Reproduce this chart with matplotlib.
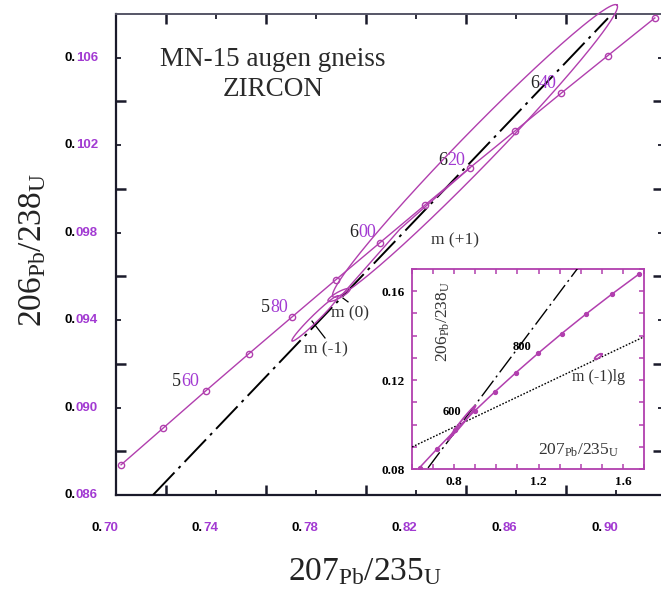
import numpy as np
import matplotlib
matplotlib.use("Agg")
import matplotlib.pyplot as plt
from matplotlib.ticker import MultipleLocator

# ---------------- data ----------------
# concordia points (main panel), ages in Ma
conc_ages = [540, 550, 560, 570, 580, 590, 600, 610, 620, 630, 640, 650, 660]
conc_x = [0.70203, 0.71887, 0.73588, 0.75306, 0.77041, 0.78793, 0.80563,
          0.82350, 0.84155, 0.85978, 0.87818, 0.89677, 0.91554]
conc_y = [0.08738, 0.08906, 0.09076, 0.09245, 0.09414, 0.09584, 0.09754,
          0.09925, 0.10096, 0.10266, 0.10438, 0.10609, 0.10781]
age_labels = ["560", "580", "600", "620", "640"]
age_label_x = [0.7260, 0.7616, 0.7968, 0.8324, 0.8692]
age_label_y = [0.09121, 0.09459, 0.09798, 0.10131, 0.10479]

# reference (dash-dot) line
ref_x = [0.7148, 0.8968]
ref_y = [0.0860, 0.1078]

# m(+1) trajectory
mp1_x = [0.7896, 0.8136, 0.8236, 0.8416]
mp1_y = [0.09505, 0.09816, 0.09917, 0.10096]

# ellipses: centre, semi-axis vector A, semi-axis vector B (data units)
ell_big = dict(c=(0.8436, 0.10173), a=(0.0568, 0.00667), b=(0.00488, -0.000542))
ell_m1 = dict(c=(0.7796, 0.09407), a=(0.0092, 0.00103), b=(0.00098, -0.000114))
ell_m0 = dict(c=(0.7892, 0.095145), a=(0.0044, 0.000275), b=(0.000575, -0.00012))
ell_lg = dict(c=(1.483, 0.1306), a=(0.0165, 0.00115), b=(0.0041, -0.00055))

# inset concordia
ins_ages = [500, 550, 600, 650, 700, 750, 800, 850, 900, 950, 1000]
ins_x = [0.63627, 0.71887, 0.80563, 0.89677, 0.99251, 1.09308, 1.19873,
         1.30970, 1.42628, 1.54876, 1.67743]
ins_y = [0.08065, 0.08906, 0.09754, 0.10609, 0.11470, 0.12338, 0.13213,
         0.14094, 0.14983, 0.15878, 0.16780]
ins_ref_x = [0.676, 1.387]
ins_ref_y = [0.0805, 0.1705]
lg_x = [0.60, 1.70]
lg_y = [0.0899, 0.1395]

x_ticks = [0.70, 0.74, 0.78, 0.82, 0.86, 0.90]
x_tick_labels = ["0.70", "0.74", "0.78", "0.82", "0.86", "0.90"]
y_ticks = [0.086, 0.090, 0.094, 0.098, 0.102, 0.106]
y_tick_labels = ["0.086", "0.090", "0.094", "0.098", "0.102", "0.106"]

# ---------------- style ----------------
MAG = "#b13fae"
PUR = "#a23ad2"
DARK = "#1a1a2a"
SERIF = ["Liberation Serif", "DejaVu Serif"]


def ellipse_xy(e, n=240):
    t = np.linspace(0, 2 * np.pi, n)
    cx, cy = e["c"]
    ax_, ay_ = e["a"]
    bx_, by_ = e["b"]
    return cx + ax_ * np.cos(t) + bx_ * np.sin(t), cy + ay_ * np.cos(t) + by_ * np.sin(t)


W, H = 661, 592
fig = plt.figure(figsize=(W / 100, H / 100), dpi=100)
ax = fig.add_axes([116 / W, 97 / H, 547 / W, 481 / H])
ax.set_xlim(0.70, 0.9188)
ax.set_ylim(0.086, 0.10799)

for sp in ["left", "bottom"]:
    ax.spines[sp].set_color(DARK)
    ax.spines[sp].set_linewidth(1.6)
ax.spines["top"].set_color("#555566")
ax.spines["top"].set_linewidth(1.4)
ax.spines["right"].set_color(DARK)
ax.spines["right"].set_linewidth(1.4)

ax.xaxis.set_major_locator(MultipleLocator(0.04))
ax.xaxis.set_minor_locator(MultipleLocator(0.02))
ax.yaxis.set_major_locator(MultipleLocator(0.004))
ax.yaxis.set_minor_locator(MultipleLocator(0.002))
ax.tick_params(which="both", direction="in", top=True, right=True,
               labelbottom=False, labelleft=False, color=DARK)
ax.tick_params(which="major", length=7.5, width=1.8)
ax.tick_params(which="minor", length=3.8, width=1.3)

# tick labels (two-tone)
tfont = dict(family="Liberation Sans", weight="bold", fontsize=9.5)
xtr = ax.get_xaxis_transform()
for v, lab in zip(x_ticks, x_tick_labels):
    sx = v - 0.0052
    ax.text(sx, -0.0686, lab[:2], transform=xtr, ha="right", va="center",
            color="black", **tfont)
    ax.text(sx, -0.0686, lab[2:], transform=xtr, ha="left", va="center",
            color=PUR, **tfont)
ytr = ax.get_yaxis_transform()
for v, lab in zip(y_ticks, y_tick_labels):
    sx = -40 / 547
    ax.text(sx, v, lab[:2], transform=ytr, ha="right", va="center",
            color="black", **tfont)
    ax.text(sx, v, lab[2:], transform=ytr, ha="left", va="center",
            color=PUR, **tfont)

# axis labels
fig.text(365 / W, 1 - 572 / H, r"$\mathregular{207_{Pb}/235_{U}}$",
         ha="center", va="center", fontsize=24, family=SERIF, color="#222222")
fig.text(33 / W, 1 - 250 / H, r"$\mathregular{206_{Pb}/238_{U}}$",
         ha="center", va="center", fontsize=24, family=SERIF, color="#222222",
         rotation=90)

# title
ax.text(157 / 547, 1 - 45 / 481, "MN-15 augen gneiss", transform=ax.transAxes,
        ha="center", va="center", fontsize=19.5, family=SERIF, color="#2a2a2a")
ax.text(157 / 547, 1 - 76 / 481, "ZIRCON", transform=ax.transAxes,
        ha="center", va="center", fontsize=19.5, family=SERIF, color="#2a2a2a")

# reference line
ax.plot(ref_x, ref_y, color="black", lw=1.4,
        linestyle=(0, (16, 3, 1.5, 3)), zorder=3)

# ellipses
for e in (ell_big, ell_m1, ell_m0):
    ex, ey = ellipse_xy(e)
    ax.plot(ex, ey, color=MAG, lw=1.0, clip_on=False, zorder=4)

# m(+1)
ax.plot(mp1_x, mp1_y, color=MAG, lw=1.0, zorder=4)

# concordia
ax.plot(conc_x, conc_y, color=MAG, lw=1.0, marker="o", ms=4.5,
        mfc="none", mec=MAG, mew=1.0, zorder=5)

# age labels
for lab, lx, ly in zip(age_labels, age_label_x, age_label_y):
    ax.text(lx, ly, lab[0], ha="right", va="center", fontsize=13,
            family=SERIF, color="#222222")
    ax.text(lx, ly, lab[1:], ha="left", va="center", fontsize=13,
            family=SERIF, color=PUR)

# m labels with pointers
ax.text(0.7935, 0.09428, "m (0)", ha="center", va="center", fontsize=12.5,
        family=SERIF, color="#333333")
ax.plot([0.7928, 0.7908], [0.09423 + 0.0006, 0.09500], color="black", lw=0.9)
ax.text(0.7838, 0.09265, "m (-1)", ha="center", va="center", fontsize=12.5,
        family=SERIF, color="#333333")
ax.plot([0.7836, 0.7784], [0.09318, 0.09395], color="black", lw=0.9)
ax.text(0.8356, 0.09766, "m (+1)", ha="center", va="center", fontsize=12.5,
        family=SERIF, color="#333333")

# ---------------- inset ----------------
ins = fig.add_axes([412 / W, 123 / H, 232 / W, 200 / H])
ins.set_xlim(0.6, 1.7)
ins.set_ylim(0.08, 0.17)
for sp in ins.spines.values():
    sp.set_color(MAG)
    sp.set_linewidth(1.3)
ins.xaxis.set_major_locator(MultipleLocator(0.4))
ins.xaxis.set_minor_locator(MultipleLocator(0.1))
ins.yaxis.set_major_locator(MultipleLocator(0.04))
ins.yaxis.set_minor_locator(MultipleLocator(0.01))
ins.set_xticks([0.8, 1.2, 1.6])
ins.set_xticklabels(["0.8", "1.2", "1.6"])
ins.set_yticks([0.08, 0.12, 0.16])
ins.set_yticklabels(["0.08", "0.12", "0.16"])
ins.tick_params(which="both", direction="in", top=True, right=True,
                color=MAG, length=3.5, width=1.1)
ins.tick_params(which="major", pad=5)
for tl in ins.get_xticklabels() + ins.get_yticklabels():
    tl.set_fontfamily("Liberation Serif")
    tl.set_fontweight("bold")
    tl.set_fontsize(9.5)

ins.plot(lg_x, lg_y, color="black", lw=1.0, linestyle=(0, (1.2, 1.2)), zorder=3)
ins.plot(ins_ref_x, ins_ref_y, color="black", lw=1.0,
         linestyle=(0, (14, 3, 1.5, 3)), zorder=3)
ins.plot(ins_x, ins_y, color=MAG, lw=1.1, marker="o", ms=2.8, mfc=MAG,
         mec=MAG, zorder=5)
for e in (ell_big, ell_m1, ell_m0, ell_lg):
    ex, ey = ellipse_xy(e)
    ins.plot(ex, ey, color=MAG, lw=1.3, zorder=4)

ins.text(0.79, 0.1057, "600", ha="center", va="center", fontsize=9,
         family=SERIF, weight="bold", color="black")
ins.text(1.121, 0.135, "800", ha="center", va="center", fontsize=9,
         family=SERIF, weight="bold", color="black")
ins.text(1.486, 0.1212, "m (-1)lg", ha="center", va="center", fontsize=11.5,
         family=SERIF, color="#333333")
ins.text(1.39, 0.0883, r"$\mathregular{207_{Pb}/235_{U}}$", ha="center",
         va="center", fontsize=12.5, family=SERIF, color="#333333")
ins.text(0.747, 0.1462, r"$\mathregular{206_{Pb}/238_{U}}$", ha="center",
         va="center", fontsize=12.5, family=SERIF, color="#333333", rotation=90)

fig.savefig("out.png", dpi=100)
